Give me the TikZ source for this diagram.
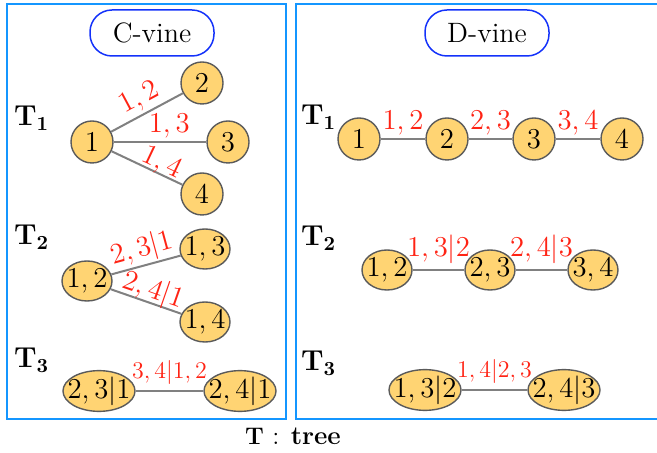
\documentclass[tikz,border=0pt]{standalone}
\usepackage{amsmath,amsfonts,amssymb}
\usetikzlibrary{shapes.geometric}

\definecolor{boxblue}{RGB}{20,150,255}
\definecolor{tagblue}{RGB}{20,50,250}
\definecolor{nodefill}{RGB}{255,212,115}
\definecolor{nodeline}{RGB}{90,90,90}
\definecolor{linkgray}{RGB}{128,128,128}
\definecolor{lblred}{RGB}{255,35,20}

\begin{document}
\begin{tikzpicture}[
    x=0.5pt, y=-0.5pt,
    panel/.style={draw=boxblue, line width=1pt},
    tag/.style={rectangle, rounded corners=11pt, draw=tagblue, line width=0.75pt, minimum width=62pt, minimum height=23pt, font=\fontsize{14}{16}\selectfont},
    var/.style={circle, draw=nodeline, fill=nodefill, line width=0.7pt, minimum size=21pt, inner sep=0pt, font=\fontsize{13.5}{15}\selectfont},
    pair/.style={ellipse, draw=nodeline, fill=nodefill, line width=0.7pt, minimum width=25pt, minimum height=20pt, inner xsep=-3pt, inner ysep=0pt, font=\fontsize{13.5}{15}\selectfont},
    link/.style={draw=linkgray, line width=1pt},
    lbl/.style={text=lblred, font=\fontsize{13.5}{15}\selectfont, inner sep=1.5pt},
    small/.style={text=lblred, font=\fontsize{11.5}{13}\selectfont, inner sep=1.5pt},
    tlbl/.style={anchor=west, font=\fontsize{14}{16}\selectfont}
]

    \useasboundingbox (0,0) rectangle (657,453);
    \clip (0,0) rectangle (657,453);

    % Panels
    \draw[panel] (7,4.5) rectangle (286,419);
    \draw[panel] (295.5,4.5) rectangle (665,419);
    \node[tag] (ctag) at (152,33) {C-vine};
    \node[tag] (dtag) at (487,33) {D-vine};

    % Tree labels
    \node[tlbl] (ct1) at (7,118) {$\mathbf{T_1}$};
    \node[tlbl] (ct2) at (7,237) {$\mathbf{T_2}$};
    \node[tlbl] (ct3) at (7,360) {$\mathbf{T_3}$};
    \node[tlbl] (dt1) at (294,117) {$\mathbf{T_1}$};
    \node[tlbl] (dt2) at (294,238) {$\mathbf{T_2}$};
    \node[tlbl] (dt3) at (294,363) {$\mathbf{T_3}$};

    % C-vine, tree 1
    \node[var] (c1) at (92,142) {$1$};
    \node[var] (c2) at (202,83) {$2$};
    \node[var] (c3) at (228,142) {$3$};
    \node[var] (c4) at (202,194) {$4$};
    \draw[link] (c1) -- (c2) node[lbl, pos=0.5, sloped, above] {$1,2$};
    \draw[link] (c1) -- (c3) node[lbl, pos=0.6, above] {$1,3$};
    \draw[link] (c1) -- (c4) node[lbl, pos=0.64, sloped, above=-3pt] {$1,4$};

    % C-vine, tree 2
    \node[pair] (c12) at (87,281) {$1,2$};
    \node[pair] (c13) at (205,249) {$1,3$};
    \node[pair] (c14) at (205,322) {$1,4$};
    \draw[link] (c12) -- (c13) node[lbl, pos=0.5, sloped, above=-1pt] {$2,3|1$};
    \draw[link] (c12) -- (c14) node[lbl, pos=0.54, sloped, above=-3pt] {$2,4|1$};

    % C-vine, tree 3
    \node[pair] (c231) at (99,391) {$2,3|1$};
    \node[pair] (c241) at (240,391) {$2,4|1$};
    \draw[link] (c231) -- (c241) node[small, midway, above=1pt] {$3,4|1,2$};

    % D-vine, tree 1
    \node[var] (d1) at (359,139) {$1$};
    \node[var] (d2) at (447,139) {$2$};
    \node[var] (d3) at (534,139) {$3$};
    \node[var] (d4) at (622,139) {$4$};
    \draw[link] (d1) -- (d2) node[lbl, midway, above] {$1,2$};
    \draw[link] (d2) -- (d3) node[lbl, midway, above] {$2,3$};
    \draw[link] (d3) -- (d4) node[lbl, midway, above] {$3,4$};

    % D-vine, tree 2
    \node[pair] (d12) at (387,270) {$1,2$};
    \node[pair] (d23) at (490,270) {$2,3$};
    \node[pair] (d34) at (593,270) {$3,4$};
    \draw[link] (d12) -- (d23) node[lbl, midway, above=1pt] {$1,3|2$};
    \draw[link] (d23) -- (d34) node[lbl, midway, above=1pt] {$2,4|3$};

    % D-vine, tree 3
    \node[pair] (d132) at (425,390) {$1,3|2$};
    \node[pair] (d243) at (564,390) {$2,4|3$};
    \draw[link] (d132) -- (d243) node[small, midway, above=1pt] {$1,4|2,3$};

    % Legend
    \node[font=\fontsize{13}{15}\selectfont] (legend) at (293,436) {$\mathbf{T}$ : \textbf{tree}};

\end{tikzpicture}
\end{document}
